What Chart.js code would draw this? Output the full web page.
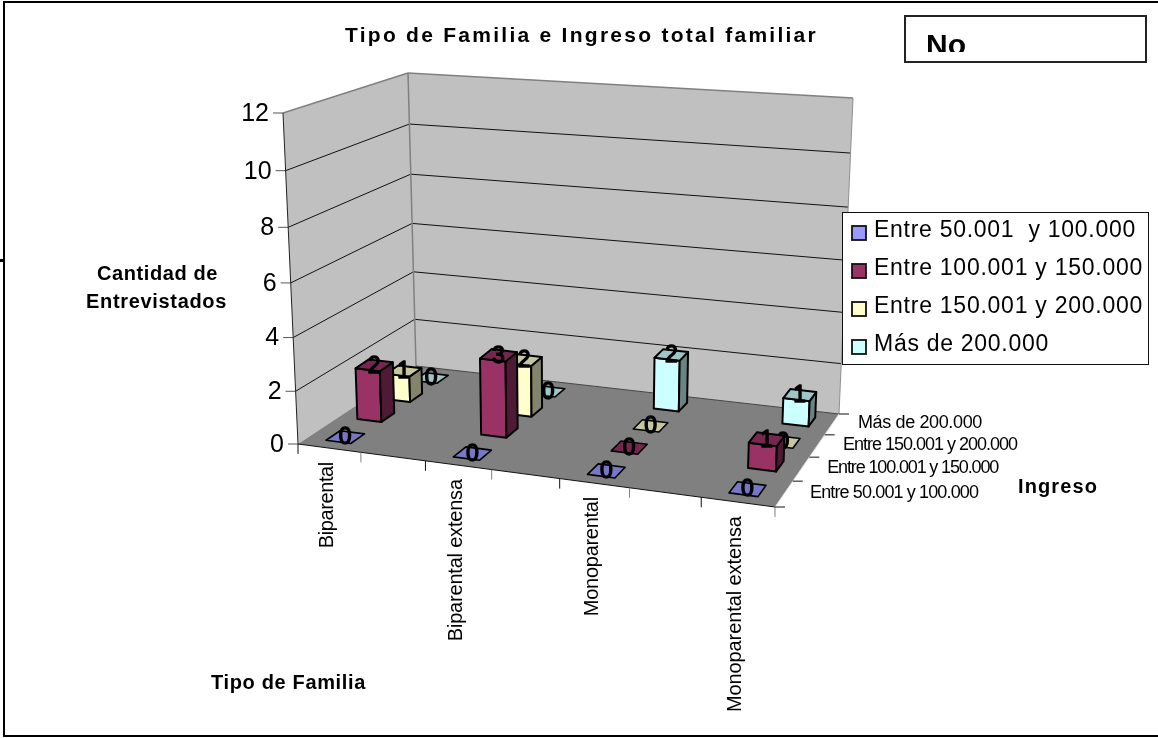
<!DOCTYPE html>
<html><head><meta charset="utf-8">
<style>html,body{margin:0;padding:0;background:#fff}canvas{display:block}</style>
<script src="https://cdn.jsdelivr.net/npm/chart.js@4/dist/chart.umd.min.js"></script>
</head><body><canvas id="c" width="1158" height="738"></canvas>
<script>
const categories = ["Biparental", "Biparental extensa", "Monoparental", "Monoparental extensa"];
const seriesNames = ["Entre 50.001  y 100.000", "Entre 100.001 y 150.000", "Entre 150.001 y 200.000", "Más de 200.000"];
const serie1 = [0, 0, 0, 0];
const serie2 = [2, 3, 0, 1];
const serie3 = [1, 2, 0, 0];
const serie4 = [0, 0, 2, 1];
const yTicks = [0, 2, 4, 6, 8, 10, 12];
const seriesColors = ["#9999FF", "#993366", "#FFFFCC", "#CCFFFF"];
const titleText = "Tipo de Familia e Ingreso total familiar";

const FONT = '"Liberation Sans", Arial, sans-serif';
const floorQ = [[298,444],[775,507],[839,414],[416,366]];
const topQ   = [[283,113],[787,172],[853,98],[408,73]];
const VP = [571,6467];
const PERSP = 1.055;

function homography(q){
  const [x0,y0]=q[0],[x1,y1]=q[1],[x2,y2]=q[2],[x3,y3]=q[3];
  const dx1=x1-x2,dx2=x3-x2,sx=x0-x1+x2-x3,dy1=y1-y2,dy2=y3-y2,sy=y0-y1+y2-y3;
  const den=dx1*dy2-dx2*dy1;
  const g=(sx*dy2-dx2*sy)/den,h=(dx1*sy-sx*dy1)/den;
  const a=x1-x0+g*x1,b=x3-x0+h*x3,d=y1-y0+g*y1,e=y3-y0+h*y3;
  return (u,w)=>{const k=g*u+h*w+1;return [(a*u+b*w+x0)/k,(d*u+e*w+y0)/k];};
}
const H0=homography(floorQ),H1=homography(topQ);

function shade(hex,f){
  const n=parseInt(hex.slice(1),16);
  const r=(n>>16&255)*f,g=(n>>8&255)*f,b=(n&255)*f;
  return `rgb(${r|0},${g|0},${b|0})`;
}
function poly(ctx,pts,fill,stroke,lw){
  ctx.beginPath();pts.forEach((p,i)=>i?ctx.lineTo(p[0],p[1]):ctx.moveTo(p[0],p[1]));ctx.closePath();
  if(fill){ctx.fillStyle=fill;ctx.fill();}
  if(stroke){ctx.strokeStyle=stroke;ctx.lineWidth=lw||1;ctx.lineJoin='round';ctx.stroke();}
}
function seg(ctx,a,b,color,lw){
  ctx.beginPath();ctx.moveTo(a[0],a[1]);ctx.lineTo(b[0],b[1]);ctx.strokeStyle=color;ctx.lineWidth=lw||1;ctx.stroke();
}
function fitText(ctx,text,x,y,width,font){
  ctx.save();ctx.font=font;ctx.letterSpacing='0px';ctx.fillStyle='#000';ctx.textBaseline='middle';ctx.textAlign='left';
  const m=ctx.measureText(text).width;
  const ls=(width-m)/text.length;
  ctx.letterSpacing=ls.toFixed(3)+'px';
  ctx.fillText(text,x,y);
  ctx.restore();
}

const scene={
  id:'scene3d',
  beforeDatasetsDraw(chart){
    const ctx=chart.ctx,ys=chart.scales.y;
    const P=pointFn(chart);
    ctx.save();
    // outer frame
    ctx.fillStyle='#000';
    ctx.fillRect(3,1,1155,2);ctx.fillRect(3,1,2,736);ctx.fillRect(3,735,1155,2);ctx.fillRect(0,259,3,3);
    // walls and floor
    poly(ctx,[P(0,0,0),P(0,1,0),P(0,1,12),P(0,0,12)],'#C0C0C0');
    poly(ctx,[P(0,1,0),P(1,1,0),P(1,1,12),P(0,1,12)],'#C0C0C0');
    poly(ctx,[P(0,0,0),P(1,0,0),P(1,1,0),P(0,1,0)],'#808080');
    // gridlines and value ticks
    ys.ticks.forEach(t=>{
      const v=t.value;
      if(v>0&&v<12){seg(ctx,P(0,0,v),P(0,1,v),'#111');seg(ctx,P(0,1,v),P(1,1,v),'#111');}
      const p=P(0,0,v);
      seg(ctx,[p[0]-10,p[1]],p,'#555');
      ctx.font='25px '+FONT;ctx.fillStyle='#000';ctx.textAlign='right';ctx.textBaseline='middle';
      ctx.fillText(String(v),p[0]-14,p[1]+1);
    });
    // wall edges
    seg(ctx,P(0,0,12),P(0,1,12),'#808080',1.5);
    seg(ctx,P(0,1,12),P(1,1,12),'#808080',1.5);
    seg(ctx,P(1,1,12),P(1,1,0),'#909090',1);
    seg(ctx,P(0,1,12),P(0,1,0),'#808080',1.5);
    seg(ctx,P(0,0,12),P(0,0,0),'#222',1);
    seg(ctx,P(0,1,0),P(1,1,0),'#444',1);
    seg(ctx,P(0,0,0),P(1,0,0),'#111',1);
    seg(ctx,P(1,0,0),P(1,1,0),'#ddd',1);
    // front ticks
    for(let k=0;k<=7;k++){
      const p=P(k/7,0,0);
      seg(ctx,p,[p[0],p[1]+10],k%2?'#808080':'#111');
    }
    // depth ticks
    for(let k=0;k<=4;k++){
      const p=P(1,k/4,0);
      seg(ctx,p,[p[0]+10,p[1]],'#111');
    }
    // category labels
    const catWidths=[86,162,119,196];
    categories.forEach((name,i)=>{
      const p=H0(catU(chart,i),0);
      ctx.save();ctx.translate(p[0]-2,p[1]+14);ctx.rotate(-Math.PI/2);
      const lw=catWidths[i];
      fitText(ctx,name,-lw,0,lw,'20px '+FONT);
      ctx.restore();
    });
    // depth labels
    const depthWidths=[168,171,174,124];
    seriesNames.forEach((name,j)=>{
      const p=H0(1,(j+.5)/seriesNames.length);
      fitText(ctx,name.replace(/\s+/g,' '),p[0]+26,p[1]-1,depthWidths[j],'18px '+FONT);
    });
    // titles
    const B='bold 20px '+FONT;
    fitText(ctx,titleText,345,36,473,'bold 21px '+FONT);
    fitText(ctx,'Cantidad de',97,274,121,B);
    fitText(ctx,'Entrevistados',86,302,141,B);
    fitText(ctx,'Tipo de Familia',211,683,155,B);
    fitText(ctx,'Ingreso',1018,487,80,B);
    // "No" box
    ctx.strokeStyle='#222';ctx.lineWidth=2;ctx.strokeRect(905,16,241,46);
    ctx.save();ctx.beginPath();ctx.rect(906,17,239,35);ctx.clip();
    ctx.font='bold 30px '+FONT;ctx.fillStyle='#000';ctx.textAlign='left';ctx.textBaseline='alphabetic';
    ctx.fillText('No',926,54.5);ctx.restore();
    ctx.restore();
  },
  afterDatasetsDraw(chart){
    const ctx=chart.ctx,ys=chart.scales.y;
    const unit=(ys.getPixelForValue(0)-ys.getPixelForValue(1))*0.92;
    const nS=chart.data.datasets.length,nC=categories.length;
    const du=0.0283,dw=0.055;
    ctx.save();
    for(let j=nS-1;j>=0;j--){
      const ds=chart.data.datasets[j];
      const col=seriesColors[j];
      for(let i=0;i<nC;i++){
        const v=ds.data[i];
        const u=catU(chart,i),w=(j+.5)/nS;
        const b=[H0(u-du,w-dw),H0(u+du,w-dw),H0(u+du,w+dw),H0(u-du,w+dw)];
        const h=v*unit;
        const up=c=>[c[0]+(c[0]-VP[0])/(VP[1]-c[1])*h,c[1]-h];
        const t=b.map(up);
        if(v>0){
          poly(ctx,[b[0],b[1],t[1],t[0]],col,'#000',2);
          poly(ctx,[b[1],b[2],t[2],t[1]],shade(col,.52),'#000',2);
        }
        poly(ctx,t,shade(col,.78),'#000',v>0?2:1.6);
        const cx=(t[0][0]+t[2][0])/2,cy=(t[0][1]+t[2][1])/2;
        ctx.font='23px '+FONT;ctx.fillStyle='#000';ctx.strokeStyle='#000';ctx.lineWidth=1.4;
        ctx.textAlign='center';ctx.textBaseline='middle';
        ctx.fillText(String(v),cx,cy+1);ctx.strokeText(String(v),cx,cy+1);
      }
    }
    ctx.restore();
    // legend
    ctx.save();
    ctx.fillStyle='#fff';ctx.fillRect(842,212,306,152);
    ctx.strokeStyle='#111';ctx.lineWidth=1;ctx.strokeRect(842.5,212.5,306,152);
    const ly=[233,271,309,347],lw=[262,269,269,175];
    chart.data.datasets.forEach((ds,j)=>{
      ctx.fillStyle=seriesColors[j];ctx.fillRect(852,ly[j]-7,14,14);
      ctx.strokeStyle='#111';ctx.lineWidth=1.8;ctx.strokeRect(852,ly[j]-7,14,14);
      fitText(ctx,ds.label,874,ly[j]-2,lw[j],'23px '+FONT);
    });
    ctx.restore();
  }
};
function catU(chart,i){
  const x=chart.scales.x;
  const norm=(x.getPixelForValue(i)-x.left)/x.width;
  return (8*norm-.5)/7;
}
function pointFn(chart){
  const ys=chart.scales.y;
  return (u,w,v)=>{
    const a=H0(u,w),b=H1(u,w);
    const t=(ys.bottom-ys.getPixelForValue(v))/ys.height;
    const f=t/(t+(1-t)*PERSP);
    return [a[0]+(b[0]-a[0])*f,a[1]+(b[1]-a[1])*f];
  };
}
class Bar3D extends Chart.BarController{ draw(){} }
Bar3D.id='bar3d';
Bar3D.defaults=Chart.BarController.defaults;
Chart.register(Bar3D);

new Chart(document.getElementById('c'),{
  type:'bar3d',
  data:{labels:categories,datasets:[
    {label:seriesNames[0],data:serie1,backgroundColor:seriesColors[0]},
    {label:seriesNames[1],data:serie2,backgroundColor:seriesColors[1]},
    {label:seriesNames[2],data:serie3,backgroundColor:seriesColors[2]},
    {label:seriesNames[3],data:serie4,backgroundColor:seriesColors[3]}
  ]},
  options:{
    responsive:false,animation:false,
    layout:{padding:{left:298,right:383,top:113,bottom:294}},
    plugins:{legend:{display:false},title:{display:false},tooltip:{enabled:false}},
    scales:{
      x:{type:'category',display:false,offset:true},
      y:{type:'linear',display:false,min:0,max:12,afterBuildTicks:s=>{s.ticks=yTicks.map(value=>({value}));}}
    }
  },
  plugins:[scene]
});
</script></body></html>
